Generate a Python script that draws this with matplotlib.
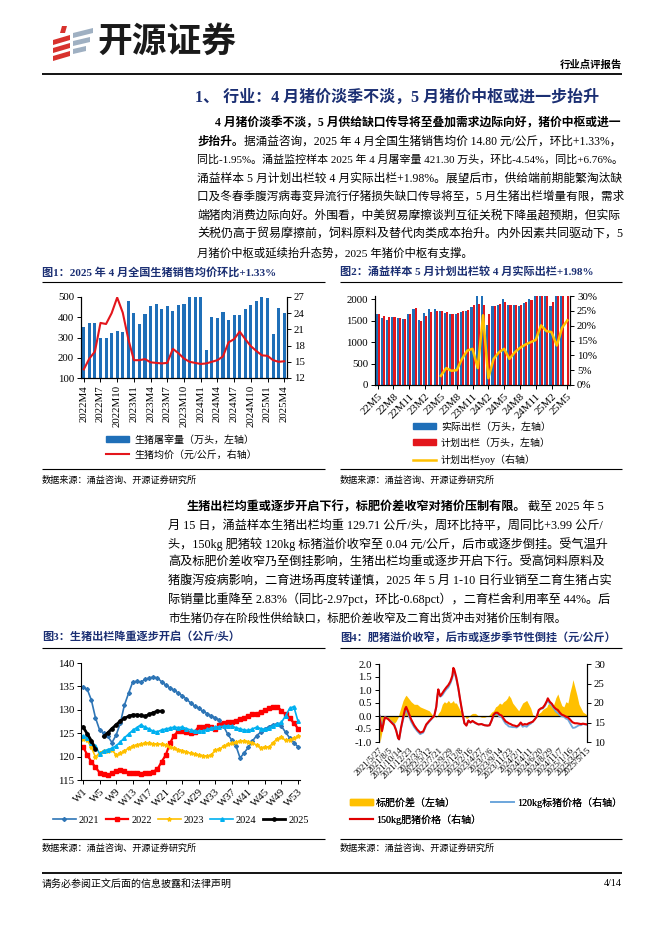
import matplotlib
matplotlib.use('Agg')
import matplotlib.pyplot as plt
import matplotlib.dates as mdates
from matplotlib.patches import Polygon, Patch
from matplotlib.lines import Line2D
from matplotlib.ticker import FuncFormatter
from datetime import datetime
import numpy as np

plt.rcParams['font.family'] = ['Liberation Serif', 'Noto Sans CJK SC']
plt.rcParams['axes.unicode_minus'] = False
plt.rcParams['axes.linewidth'] = 0.8

W, H = 662, 936
NAVY = '#1B2F73'
BLUE = '#1F6FB8'
RED = '#E3161C'
GOLD = '#FFC000'

# ---------------- chart 1: monthly slaughter / price, 2022M4 - 2025M4
ticks1 = ['2022M4', '2022M7', '2022M10', '2023M1', '2023M4', '2023M7', '2023M10',
          '2024M1', '2024M4', '2024M7', '2024M10', '2025M1', '2025M4']
slaughter = [352, 370, 370, 296, 296, 320, 333, 328, 480, 420, 367, 415, 455, 465, 442,
             455, 433, 462, 464, 520, 545, 560, 240, 400, 395, 425, 386, 410, 410, 440,
             462, 480, 510, 497, 316, 444, 421.3]
hog_price = [13.6, 15.6, 16.9, 22.2, 22.0, 24.0, 26.9, 24.1, 19.2, 15.3, 15.3, 15.5, 14.9,
             14.8, 14.7, 14.8, 17.4, 16.6, 15.6, 15.0, 14.8, 14.6, 14.7, 15.0, 15.3, 16.0,
             18.6, 19.2, 20.6, 19.2, 17.9, 17.0, 16.2, 16.1, 15.3, 15.0, 15.1]

# ---------------- chart 2: planned vs actual output, 22M5 - 25M5
ticks2 = ['22M5', '22M8', '22M11', '23M2', '23M5', '23M8', '23M11', '24M2', '24M5',
          '24M8', '24M11', '25M2', '25M5']
actual_out = [1660, 1550, 1520, 1590, 1550, 1540, 1660, 1770, 1520, 1680, 1760, 1770, 1730,
              1680, 1660, 1650, 1700, 1720, 1820, 2060, 2060, 1400, 1840, 1870, 1990, 1850,
              1850, 1840, 1910, 1990, 2090, 2200, 2200, 1840, 2090, 2200, np.nan]
plan_out = [1640, 1600, 1590, 1580, 1550, 1540, 1640, 1790, 1480, 1600, 1700, 1730, 1720,
            1700, 1660, 1680, 1720, 1740, 1850, 1880, 1870, 1640, 1840, 1890, 1930, 1850,
            1850, 1870, 1930, 1970, 2150, 2200, 2200, 1930, 2150, 2200, 2200]
plan_yoy = [3.1, 5.7, 4.8, 5.0, 8.8, 11.6, 12.2, 5.7, 23.5, 2.3, 8.8, 11.0, 12.2, 8.8, 11.0,
            12.5, 13.6, 14.4, 15.2, 20.1, 18.2, 17.8, 13.3, 19.3, 21.8]  # from 23M5

# ---------------- chart 3: weekly average weight
weeks = ['W1', 'W5', 'W9', 'W13', 'W17', 'W21', 'W25', 'W29', 'W33', 'W37', 'W41', 'W45',
         'W49', 'W53']
w2021 = [134.8, 134.4, 132.1, 128.3, 125.7, 125.0, 124.3, 123.0, 124.6, 127.1,
         131.0, 133.5, 135.9, 136.1, 135.9, 136.5, 136.8, 137.0, 136.8, 136.0,
         135.3, 134.7, 134.2, 133.6, 133.0, 132.3, 131.5, 130.8, 130.3, 129.7,
         129.2, 128.7, 128.3, 127.8, 126.5, 124.8, 123.5, 122.3, 119.7, 120.8,
         122.0, 123.3, 124.5, 125.2, 125.9, 126.4, 126.8, 127.0, 126.5, 125.2,
         124.0, 123.0, 122.1]
w2022 = [122.1, 120.4, 118.9, 117.7, 116.6, 116.2, 116.1, 116.4, 117.0, 117.2,
         116.9, 116.6, 116.4, 116.4, 116.3, 116.5, 116.6, 116.8, 117.3, 118.9,
         120.3, 122.8, 124.5, 125.4, 125.4, 125.2, 125.0, 125.3, 126.4, 126.3,
         126.5, 126.4, 125.9, 126.8, 127.2, 127.3, 127.5, 127.7, 128.0, 128.3,
         128.7, 129.0, 129.2, 129.5, 129.9, 130.3, 130.6, 130.7, 129.8, 129.0,
         128.2, 127.2, 126.0]
w2023 = [123.8, 123.5, 122.0, 119.9, 120.8, 121.2, 121.3, 121.5, 120.3, 120.7,
         121.2, 121.8, 122.2, 122.5, 122.7, 122.8, 122.8, 122.7, 122.7, 122.6,
         122.4, 122.1, 121.8, 121.5, 121.3, 121.0, 120.7, 120.5, 120.3, 120.2,
         120.1, 120.3, 121.4, 121.6, 122.2, 122.6, 122.8, 123.1, 123.3, 123.4,
         123.2, 122.9, 122.5, 121.9, 122.0, 122.0, 123.0, 123.8, 124.1, 123.5,
         123.5, 123.9, 124.3]
w2024 = [124.4, 124.0, 123.0, 122.3, 120.6, 121.2, 121.5, 121.8, 122.3, 123.1,
         124.0, 124.8, 125.6, 126.2, 126.8, 126.3, 125.9, 125.4, 125.3, 125.7,
         125.9, 126.1, 126.3, 126.2, 126.3, 126.0, 125.7, 125.5, 125.4, 125.5,
         125.8, 126.1, 126.3, 126.4, 126.5, 126.6, 126.5, 126.2, 125.9, 125.7,
         125.6, 125.9, 126.3, 126.0, 125.8, 126.1, 126.6, 126.9, 127.3, 128.7,
         130.3, 130.7, 127.6]
w2025 = [126.3, 124.9, 123.4, 121.6, np.nan, 124.3, 125.1, 126.0, 126.8, 127.6,
         128.2, 128.6, 128.9, 128.9, 128.8, 128.6, 129.0, 129.4, 129.7, 129.7]

# ---------------- chart 4: fat / standard hog prices
dates4 = ['2021/5/27', '2021/6/3', '2021/6/17', '2021/7/1', '2021/7/8', '2021/7/29',
          '2021/8/19', '2021/9/9', '2021/9/23', '2021/10/7', '2021/10/14', '2021/10/28',
          '2021/11/11', '2021/11/25', '2021/12/2', '2021/12/16', '2022/1/6', '2022/1/27',
          '2022/2/17', '2022/3/10', '2022/3/31', '2022/4/21', '2022/5/12', '2022/6/2',
          '2022/6/16', '2022/6/30', '2022/7/7', '2022/7/14', '2022/7/21', '2022/7/28',
          '2022/8/11', '2022/8/25', '2022/9/8', '2022/9/22', '2022/10/6', '2022/10/20',
          '2022/10/27', '2022/11/3', '2022/11/17', '2022/12/1', '2022/12/15', '2022/12/29',
          '2023/1/12', '2023/1/26', '2023/2/9', '2023/2/23', '2023/3/9', '2023/3/30',
          '2023/4/20', '2023/5/11', '2023/6/1', '2023/6/22', '2023/7/6', '2023/7/20',
          '2023/8/3', '2023/8/17', '2023/8/31', '2023/9/14', '2023/9/28', '2023/10/12',
          '2023/10/26', '2023/11/9', '2023/11/16', '2023/11/30', '2023/12/14', '2023/12/28',
          '2024/1/11', '2024/1/25', '2024/2/8', '2024/2/22', '2024/3/7', '2024/3/21',
          '2024/4/4', '2024/4/18', '2024/5/2', '2024/5/16', '2024/5/30', '2024/6/13',
          '2024/6/27', '2024/7/11', '2024/7/25', '2024/8/8', '2024/8/15', '2024/8/29',
          '2024/9/12', '2024/9/26', '2024/10/10', '2024/10/24', '2024/11/7', '2024/11/21',
          '2024/12/5', '2024/12/19', '2025/1/2', '2025/1/16', '2025/1/30', '2025/2/6',
          '2025/2/20', '2025/3/6', '2025/3/20', '2025/4/3', '2025/4/17', '2025/5/1',
          '2025/5/15']
fat_price = [17.0, 15.5, 12.8, 15.5, 16.3, 15.9, 15.1, 14.3, 13.0, 11.0, 10.7, 13.8,
             16.3, 18.5, 19.0, 17.8, 15.8, 14.3, 13.2, 12.4, 12.7, 14.5, 15.4, 16.2,
             16.7, 19.0, 21.5, 23.5, 22.5, 21.8, 22.5, 23.3, 24.0, 24.6, 25.5, 27.0,
             29.0, 28.5, 26.5, 23.8, 20.5, 17.5, 14.8, 14.2, 15.5, 15.0, 15.4, 14.9,
             14.5, 14.6, 14.3, 14.2, 14.3, 15.5, 17.0, 17.5, 17.5, 17.0, 16.8, 16.0,
             15.3, 15.0, 14.8, 14.6, 14.3, 14.2, 14.0, 14.3, 15.0, 14.4, 14.6, 14.5,
             14.8, 15.0, 15.2, 15.8, 16.5, 18.2, 18.6, 18.8, 19.5, 20.5, 21.2, 20.3,
             19.8, 19.0, 18.5, 18.2, 17.5, 17.0, 16.8, 16.5, 16.3, 15.8, 15.2, 15.0,
             14.8, 14.8, 14.7, 14.6, 14.7, 14.6, 14.5]
std_price = [17.3, 16.5, 13.4, 15.8, 16.4, 16.0, 15.3, 14.6, 13.2, 11.1, 10.6, 13.5,
             15.7, 17.8, 18.2, 17.1, 15.2, 13.8, 12.8, 12.0, 12.4, 14.2, 15.2, 16.1,
             16.7, 19.0, 21.5, 23.4, 22.4, 21.6, 22.0, 22.8, 23.5, 24.0, 25.0, 26.4,
             28.4, 28.0, 26.0, 23.5, 20.3, 17.5, 14.8, 14.3, 15.5, 15.0, 15.3, 14.8,
             14.5, 14.6, 14.3, 14.2, 14.3, 15.4, 16.8, 17.2, 17.1, 16.5, 16.4, 15.5,
             14.7, 14.3, 14.0, 13.9, 13.8, 13.8, 13.7, 14.1, 14.7, 13.9, 14.1, 13.9,
             14.4, 14.7, 15.2, 15.8, 16.5, 18.1, 18.5, 18.6, 19.2, 20.2, 20.8, 19.8,
             19.4, 18.6, 17.8, 17.4, 16.9, 16.6, 16.5, 16.0, 15.8, 14.9, 14.0, 13.6,
             13.7, 14.0, 14.3, 14.3, 14.6, 14.5, 14.5]
spread = [-0.3, -1.0, -0.6, -0.3, -0.1, -0.05, -0.25, -0.3, -0.2, -0.05, 0.1, 0.35,
          0.6, 0.75, 0.8, 0.7, 0.55, 0.45, 0.45, 0.35, 0.3, 0.25, 0.2, 0.05,
          0.0, -0.05, 0.0, 0.1, 0.15, 0.2, 0.45, 0.55, 0.5, 0.6, 0.5, 0.55,
          0.6, 0.5, 0.5, 0.35, 0.2, 0.05, 0.0, -0.1, -0.05, 0.05, 0.1, 0.1,
          0.0, -0.05, -0.05, 0.0, 0.05, 0.15, 0.2, 0.35, 0.4, 0.5, 0.45, 0.55,
          0.6, 0.7, 0.8, 0.7, 0.5, 0.4, 0.3, 0.2, 0.35, 0.5, 0.55, 0.6,
          0.45, 0.3, 0.05, 0.0, 0.05, 0.1, 0.15, 0.25, 0.3, 0.35, 0.45, 0.5,
          0.4, 0.45, 0.7, 0.85, 0.6, 0.4, 0.35, 0.55, 0.5, 0.9, 1.2, 1.4,
          1.1, 0.8, 0.45, 0.3, 0.15, 0.1, 0.04]
ticks4 = ['2021/5/27', '2021/8/5', '2021/10/14', '2021/12/23', '2022/3/3', '2022/5/12',
          '2022/7/21', '2022/9/29', '2022/12/8', '2023/2/16', '2023/4/27', '2023/7/6',
          '2023/9/14', '2023/11/23', '2024/2/1', '2024/4/11', '2024/6/20', '2024/8/29',
          '2024/11/7', '2025/1/16', '2025/3/27', '2025/5/15']

para1_bold = ['4 月猪价淡季不淡，5 月供给缺口传导将至叠加需求边际向好，猪价中枢或进一', '步抬升。']
para1 = ['', '据涌益咨询，2025 年 4 月全国生猪销售均价 14.80 元/公斤，环比+1.33%，',
         '同比-1.95%。涌益监控样本 2025 年 4 月屠宰量 421.30 万头，环比-4.54%，同比+6.76%。',
         '涌益样本 5 月计划出栏较 4 月实际出栏+1.98%。展望后市，供给端前期能繁淘汰缺',
         '口及冬春季腹泻病毒变异流行仔猪损失缺口传导将至，5 月生猪出栏增量有限，需求',
         '端猪肉消费边际向好。外围看，中美贸易摩擦谈判互征关税下降虽超预期，但实际',
         '关税仍高于贸易摩擦前，饲料原料及替代肉类成本抬升。内外因素共同驱动下，5',
         '月猪价中枢或延续抬升态势，2025 年猪价中枢有支撑。']
para2_bold = ['生猪出栏均重或逐步开启下行，标肥价差收窄对猪价压制有限。']
para2 = ['截至 2025 年 5',
         '月 15 日，涌益样本生猪出栏均重 129.71 公斤/头，周环比持平，周同比+3.99 公斤/',
         '头，150kg 肥猪较 120kg 标猪溢价收窄至 0.04 元/公斤，后市或逐步倒挂。受气温升',
         '高及标肥价差收窄乃至倒挂影响，生猪出栏均重或逐步开启下行。受高饲料原料及',
         '猪腹泻疫病影响，二育进场再度转谨慎，2025 年 5 月 1-10 日行业销至二育生猪占实',
         '际销量比重降至 2.83%（同比-2.97pct，环比-0.68pct），二育栏舍利用率至 44%。后',
         '市生猪仍存在阶段性供给缺口，标肥价差收窄及二育出货冲击对猪价压制有限。']

fig = plt.figure(figsize=(W / 100, H / 100), dpi=100)
bg = fig.add_axes([0, 0, 1, 1])
bg.set_xlim(0, W)
bg.set_ylim(H, 0)
bg.axis('off')
renderer = fig.canvas.get_renderer()


def axes_px(x0, y0, x1, y1):
    a = fig.add_axes([x0 / W, 1 - y1 / H, (x1 - x0) / W, (y1 - y0) / H])
    a.set_facecolor('none')
    return a


def put(x, y, s, size=8.2, weight='normal', color='black', ha='left'):
    return bg.text(x, y, s, fontsize=size, fontweight=weight, color=color, ha=ha, va='center')


def put_line(x0, x1, y, bold, normal, size=8.2, justify=True):
    # one printed line: optional bold lead-in then normal text, stretched to the right margin
    parts = []
    if bold:
        parts.append(put(x0, y, bold, size=size, weight='bold'))
    if normal:
        parts.append(put(x0, y, normal, size=size))
    widths = [p.get_window_extent(renderer).width for p in parts]
    k = (x1 - x0) / sum(widths) if justify else 1.0
    k = min(max(k, 0.93), 1.07)
    x = x0
    for p, w in zip(parts, widths):
        p.set_fontsize(size * k)
        p.set_x(x)
        x += w * k


def rule(x0, x1, y, lw=0.8):
    bg.plot([x0, x1], [y, y], color='black', lw=lw, solid_capstyle='butt')


def add_legend(**kw):
    leg = bg.legend(bbox_transform=bg.transData, frameon=False, borderpad=0,
                    borderaxespad=0, **kw)
    bg.add_artist(leg)
    return leg


def style_ticks(a):
    a.tick_params(axis='both', length=3, width=0.7, labelsize=7.8, pad=2)


# ---------------- header
for pts in [[(62, 26), (67, 26), (65, 33), (60, 33)],
            [(53, 40), (70, 35), (70, 40), (53, 45)],
            [(53, 48), (70, 43), (70, 48), (53, 53)],
            [(53, 56), (70, 51), (70, 56), (53, 61)]]:
    bg.add_patch(Polygon(pts, closed=True, color='#D8322D', lw=0))
for pts in [[(73, 33), (93, 28), (93, 33), (73, 38)],
            [(73, 41), (90, 37), (90, 42), (73, 46)],
            [(73, 49), (86, 46), (86, 51), (73, 54)]]:
    bg.add_patch(Polygon(pts, closed=True, color='#9FB0C2', lw=0))
put(97, 43, '开源证券', size=25, weight='bold', color='#1A1A1A')
put(622, 65, '行业点评报告', size=7.5, weight='bold', ha='right')
rule(42, 622, 74, lw=1.3)
put(195, 98, '1、 行业：4 月猪价淡季不淡，5 月猪价中枢或进一步抬升', size=11.5, weight='bold', color=NAVY)

# ---------------- paragraph 1
ys1 = [123, 142, 160, 179, 197, 216, 234, 253]
put_line(215, 622, ys1[0], para1_bold[0], '')
put_line(197, 622, ys1[1], para1_bold[1], para1[1])
for i in range(2, len(ys1)):
    put_line(197, 622, ys1[i], '', para1[i], justify=(i < len(ys1) - 1))

# ---------------- figure titles / rules / sources
put(42, 272, '图1：2025 年 4 月全国生猪销售均价环比+1.33%', size=8, weight='bold', color=NAVY)
put(340, 272, '图2：涌益样本 5 月计划出栏较 4 月实际出栏+1.98%', size=8, weight='bold', color=NAVY)
rule(42, 325, 282)
rule(340, 622, 282)
rule(42, 325, 469)
rule(340, 622, 469)
put(42, 480, '数据来源：涌益咨询、开源证券研究所', size=6.6)
put(340, 480, '数据来源：涌益咨询、开源证券研究所', size=6.6)

# ---------------- chart 1
ax1 = axes_px(81, 297, 287, 378)
x1 = np.arange(len(slaughter))
ax1.bar(x1, slaughter, width=0.55, color=BLUE, zorder=2)
ax1.set_xlim(-0.5, len(slaughter) - 0.5)
ax1.set_ylim(100, 500)
ax1.set_yticks(range(100, 501, 100))
ax1.set_xticks(x1[::3])
ax1.set_xticklabels(ticks1, rotation=90)
ax1b = ax1.twinx()
ax1b.plot(x1, hog_price, color=RED, lw=1.5)
ax1b.set_ylim(12, 27)
ax1b.set_yticks(range(12, 28, 3))
for a in (ax1, ax1b):
    a.spines['top'].set_visible(False)
    style_ticks(a)
add_legend(handles=[Patch(color=BLUE), Line2D([], [], color=RED, lw=1.5)],
           labels=['生猪屠宰量（万头，左轴）', '生猪均价（元/公斤，右轴）'],
           loc='upper left', bbox_to_anchor=(106, 435), fontsize=7.2, handlelength=2.3,
           handleheight=0.5, labelspacing=0.5, handletextpad=0.5)

# ---------------- chart 2
ax2 = axes_px(375, 296, 570, 385)
x2 = np.arange(len(plan_out))
ax2.bar(x2 - 0.2, actual_out, width=0.4, color=BLUE, zorder=2)
ax2.bar(x2 + 0.2, plan_out, width=0.4, color=RED, zorder=2)
ax2.set_xlim(-0.5, len(plan_out) - 0.5)
ax2.set_ylim(0, 2070)
ax2.set_yticks(range(0, 2001, 500))
ax2.set_xticks(x2[::3])
ax2.set_xticklabels(ticks2, rotation=45, ha='right', rotation_mode='anchor')
ax2b = ax2.twinx()
ax2b.plot(x2[len(x2) - len(plan_yoy):], np.array(plan_yoy) / 100, color=GOLD, lw=1.8)
ax2b.set_ylim(0, 0.30)
ax2b.set_yticks(np.arange(0, 0.31, 0.05))
ax2b.yaxis.set_major_formatter(FuncFormatter(lambda v, p: '{:.0f}%'.format(v * 100)))
for a in (ax2, ax2b):
    a.spines['top'].set_visible(False)
    style_ticks(a)
add_legend(handles=[Patch(color=BLUE), Patch(color=RED), Line2D([], [], color=GOLD, lw=1.8)],
           labels=['实际出栏（万头，左轴）', '计划出栏（万头，左轴）', '计划出栏yoy（右轴）'],
           loc='upper left', bbox_to_anchor=(413, 422), fontsize=7.2, handlelength=2.3,
           handleheight=0.5, labelspacing=0.65, handletextpad=0.5)

# ---------------- paragraph 2
ys2 = [507, 526, 544, 562, 581, 599, 618]
put_line(187, 622, ys2[0], para2_bold[0], para2[0])
for i in range(1, len(ys2)):
    put_line(168, 622, ys2[i], '', para2[i], justify=(i < len(ys2) - 1))

put(42, 637, '图3：生猪出栏降重逐步开启（公斤/头）', size=8, weight='bold', color=NAVY)
put(340, 637, '图4：肥猪溢价收窄，后市或逐步季节性倒挂（元/公斤）', size=8, weight='bold', color=NAVY)
rule(42, 325, 648)
rule(340, 622, 648)
rule(42, 325, 839)
rule(340, 622, 839)
put(42, 848, '数据来源：涌益咨询、开源证券研究所', size=6.6)
put(340, 848, '数据来源：涌益咨询、开源证券研究所', size=6.6)

# ---------------- chart 3
ax3 = axes_px(81, 663, 300, 780)
series3 = [(w2021, '2021', '#2E75B6', 'D', 2.0, 1.2),
           (w2022, '2022', '#FF0000', 's', 3.2, 1.6),
           (w2023, '2023', GOLD, '*', 3.0, 1.2),
           (w2024, '2024', '#00B0F0', '^', 2.6, 1.2),
           (w2025, '2025', 'black', 'o', 2.4, 2.0)]
handles3 = []
for vals, lab, col, mk, ms, lw in series3:
    xs = np.arange(1, len(vals) + 1)
    ln, = ax3.plot(xs, vals, color=col, marker=mk, markersize=ms, lw=lw, label=lab)
    handles3.append(ln)
ax3.set_xlim(0.5, 53.5)
ax3.set_ylim(115, 140)
ax3.set_yticks(range(115, 141, 5))
ax3.set_xticks(range(1, 54, 4))
ax3.set_xticklabels(weeks, rotation=45, ha='right', rotation_mode='anchor')
ax3.spines['top'].set_visible(False)
ax3.spines['right'].set_visible(False)
style_ticks(ax3)
add_legend(handles=handles3, labels=[h.get_label() for h in handles3], loc='center',
           bbox_to_anchor=(181, 820), ncol=5, fontsize=7.4, handlelength=2.2,
           columnspacing=0.6, handletextpad=0.3)

# ---------------- chart 4
d4 = [mdates.date2num(datetime.strptime(s, '%Y/%m/%d')) for s in dates4]
ax4 = axes_px(379, 664, 587, 742)
ax4.fill_between(d4, 0, spread, color=GOLD, lw=0, zorder=1)
ax4.axhline(0, color='black', lw=0.9, zorder=3)
ax4.set_ylim(-1, 2)
ax4.set_yticks(np.arange(-1, 2.01, 0.5))
ax4.yaxis.set_major_formatter(FuncFormatter(lambda v, p: '{:.1f}'.format(v)))
ax4.set_xlim(d4[0], d4[-1])
ax4b = ax4.twinx()
ax4b.plot(d4, std_price, color='#6FA8DC', lw=1.3)
ax4b.plot(d4, fat_price, color='#E00000', lw=1.5)
ax4b.set_ylim(10, 30)
ax4b.set_yticks(range(10, 31, 5))
ax4.set_xticks([mdates.date2num(datetime.strptime(s, '%Y/%m/%d')) for s in ticks4])
ax4.set_xticklabels(ticks4, rotation=45, ha='right', rotation_mode='anchor')
for a in (ax4, ax4b):
    a.spines['top'].set_visible(False)
    a.spines['bottom'].set_visible(False)
    style_ticks(a)
ax4.tick_params(axis='x', labelsize=6.4, length=0, pad=3)
h_sp = Patch(color=GOLD)
h_fat = Line2D([], [], color='#E00000', lw=1.5)
h_std = Line2D([], [], color='#6FA8DC', lw=1.3)
add_legend(handles=[h_sp, h_fat, h_std],
           labels=['标肥价差（左轴）', '150kg肥猪价格（右轴）', '120kg标猪价格（右轴）'],
           loc='upper left', bbox_to_anchor=(350, 797), ncol=2, fontsize=7.2,
           handlelength=2.3, handleheight=0.6, labelspacing=0.65, columnspacing=1.0,
           handletextpad=0.3)

# ---------------- footer
rule(42, 622, 873, lw=1.3)
put(42, 884, '请务必参阅正文后面的信息披露和法律声明', size=7.2)
put(622, 884, '4/14', size=7.2, ha='right')

fig.savefig('out.png', dpi=100)
